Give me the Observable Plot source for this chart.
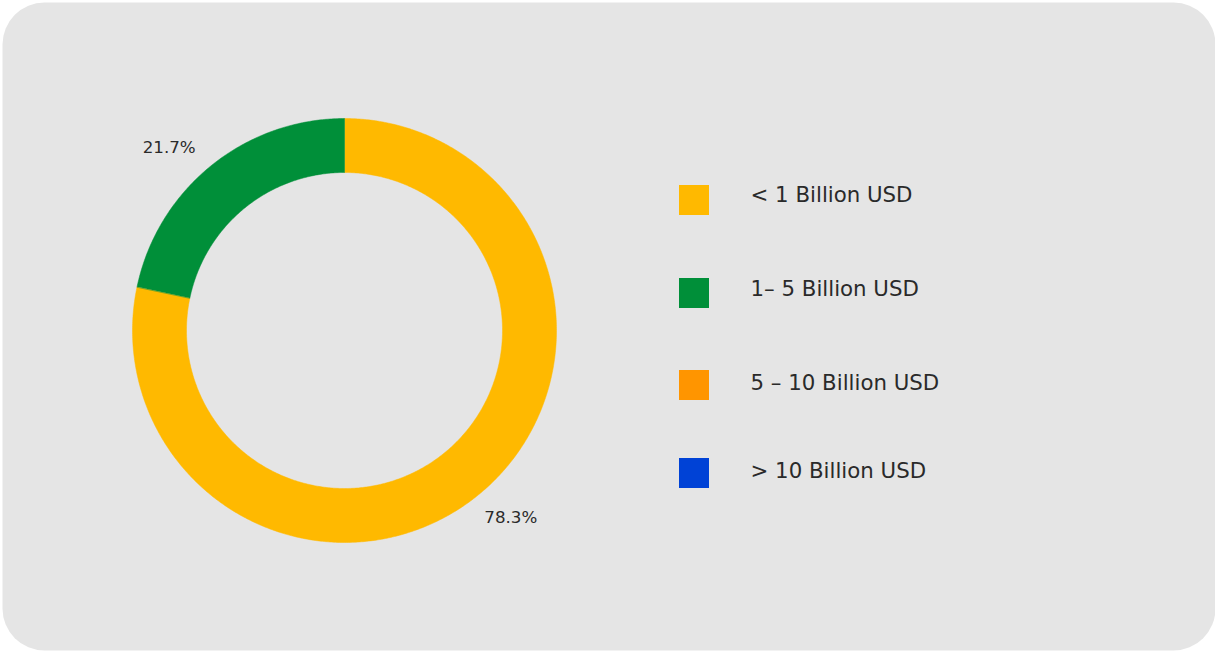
<!DOCTYPE html>
<html>
<head>
<meta charset="utf-8">
<script src="https://cdn.jsdelivr.net/npm/d3@7"></script>
<script src="https://cdn.jsdelivr.net/npm/@observablehq/plot@0.6"></script>
<style>
  html, body { margin: 0; padding: 0; background: #ffffff; }
  #chart svg { display: block; font-family: "DejaVu Sans", Verdana, sans-serif; }
</style>
</head>
<body>
<div id="chart"></div>
<script>
// ---- data ----
const categories = ["< 1 Billion USD", "1– 5 Billion USD", "5 – 10 Billion USD", "> 10 Billion USD"];
const shares = [78.3, 21.7, 0, 0];
const colors = ["#FFB900", "#008F39", "#FF9500", "#0042D6"];

// ---- layout ----
const W = 1215, H = 651;
const cx = 344, cy = 330, R = 212, r0 = 158, labelR = 229;
const legendX = 679, legendSize = 30, legendTextX = 750;
const legendRows = [200, 293, 385, 473];
const legendTextRows = [194.5, 288.5, 382.5, 471];

const pie = d3.pie().sort(null).value(d => d.share)(
  categories.map((c, i) => ({category: c, share: shares[i]}))
);

// polygon outlines of each donut slice
const pts = [];
for (const a of pie) {
  if (a.endAngle - a.startAngle <= 0) continue;
  const n = Math.max(2, Math.ceil((a.endAngle - a.startAngle) / (Math.PI / 360)));
  const ring = [];
  for (let k = 0; k <= n; k++) {
    const t = a.startAngle + (a.endAngle - a.startAngle) * k / n;
    ring.push({category: a.data.category, x: cx + R * Math.sin(t), y: cy - R * Math.cos(t)});
  }
  for (let k = n; k >= 0; k--) {
    const t = a.startAngle + (a.endAngle - a.startAngle) * k / n;
    ring.push({category: a.data.category, x: cx + r0 * Math.sin(t), y: cy - r0 * Math.cos(t)});
  }
  pts.push(...ring);
}

// percentage labels
const labels = pie.filter(a => a.data.share > 0).map(a => {
  const m = (a.startAngle + a.endAngle) / 2;
  const s = Math.sin(m), c = Math.cos(m);
  return {
    text: a.data.share.toFixed(1) + "%",
    x: cx + labelR * s,
    y: cy - labelR * c,
    anchor: s >= 0 ? "start" : "end",
    line: c >= 0 ? "bottom" : "top",
    dy: c >= 0 ? 0 : 3
  };
});

const legend = categories.map((c, i) => ({category: c, y: legendRows[i], ty: legendTextRows[i]}));

const marks = [
  Plot.frame({fill: "#e5e5e5", stroke: "none", rx: 42, insetLeft: 2, insetTop: 2, insetBottom: 1}),
  Plot.line(pts, {x: "x", y: "y", z: "category", fill: "category", stroke: "category", strokeWidth: 0.5, curve: "linear-closed"}),
  Plot.rect(legend, {x1: () => legendX, x2: () => legendX + legendSize, y1: d => d.y - legendSize / 2, y2: d => d.y + legendSize / 2, fill: "category"}),
  Plot.text(legend, {x: () => legendTextX, y: "ty", text: "category", textAnchor: "start", fontSize: 21.3, fill: "#2a2a2a"})
];
for (const l of labels) {
  marks.push(Plot.text([l], {x: "x", y: "y", text: "text", textAnchor: l.anchor, lineAnchor: l.line, dx: -4.5, dy: l.dy, fontSize: 16.7, fill: "#2a2a2a"}));
}

const chart = Plot.plot({
  width: W,
  height: H,
  margin: 0,
  style: {background: "transparent", fontFamily: "'DejaVu Sans', Verdana, sans-serif"},
  x: {type: "linear", domain: [0, W], range: [0, W], axis: null},
  y: {type: "linear", domain: [0, H], range: [0, H], axis: null},
  color: {domain: categories, range: colors},
  marks
});
document.getElementById("chart").appendChild(chart);
</script>
</body>
</html>
